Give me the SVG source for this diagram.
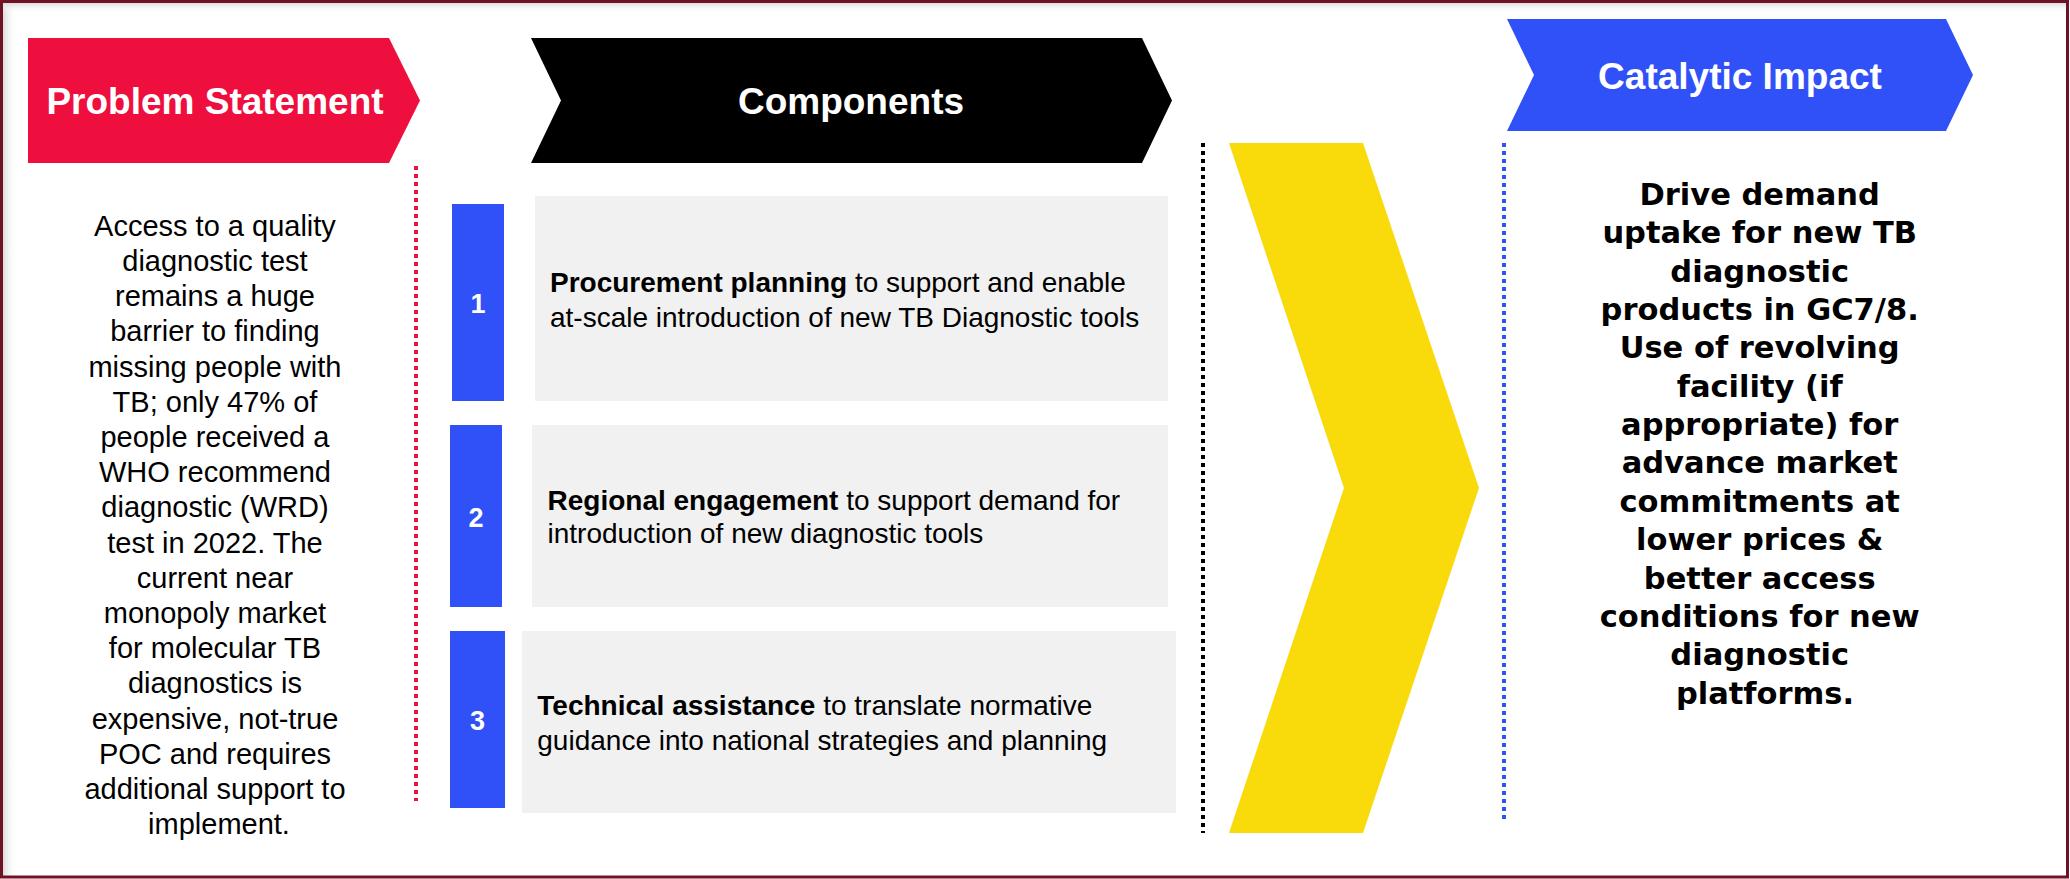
<svg xmlns="http://www.w3.org/2000/svg" width="2070" height="879" viewBox="0 0 2070 879">
  <defs>
    <linearGradient id="shadowL" x1="0" y1="0" x2="1" y2="0">
      <stop offset="0" stop-color="#dcdcdc"/>
      <stop offset="1" stop-color="#ffffff" stop-opacity="0"/>
    </linearGradient>
    <linearGradient id="shadowT" x1="0" y1="0" x2="0" y2="1">
      <stop offset="0" stop-color="#dcdcdc"/>
      <stop offset="1" stop-color="#ffffff" stop-opacity="0"/>
    </linearGradient>
    <style>
      .hdr { font-family: "Liberation Sans", Arial, sans-serif; font-weight: bold; font-size: 37px; fill: #ffffff; text-anchor: middle; }
      .body { font-family: "Liberation Sans", Arial, sans-serif; font-size: 29px; fill: #000000; text-anchor: middle; }
      .comp { font-family: "Liberation Sans", Arial, sans-serif; font-size: 28px; fill: #000000; }
      .num { font-family: "Liberation Sans", Arial, sans-serif; font-weight: bold; font-size: 27px; fill: #ffffff; text-anchor: middle; }
      .impact { font-family: "DejaVu Sans", "Liberation Sans", sans-serif; font-weight: bold; font-size: 30.5px; fill: #000000; text-anchor: middle; }
      .numbox { fill: #3050F8; }
      .graybox { fill: #F1F1F1; }
      .dots { fill: none; stroke-width: 4; stroke-dasharray: 4 4; }
    </style>
  </defs>

  <!-- background and frame -->
  <rect x="0" y="0" width="2070" height="879" fill="#ffffff"/>
  <rect x="3" y="3" width="14" height="873" fill="url(#shadowL)"/>
  <rect x="3" y="3" width="2063" height="10" fill="url(#shadowT)"/>
  <rect x="1.5" y="1.5" width="2066" height="875.5" fill="none" stroke="#6E1226" stroke-width="3"/>

  <!-- Header: Problem Statement -->
  <g id="header-problem">
    <polygon points="28,38 389,38 420,100.5 389,163 28,163" fill="#EE0F3F"/>
    <text class="hdr" x="215" y="114">Problem Statement</text>
  </g>

  <!-- Header: Components -->
  <g id="header-components">
    <polygon points="531,38 1142,38 1172,100.5 1142,163 531,163 561,100.5" fill="#000000"/>
    <text class="hdr" x="851" y="114">Components</text>
  </g>

  <!-- Header: Catalytic Impact -->
  <g id="header-impact">
    <polygon points="1507,19 1946,19 1973,75 1946,131 1507,131 1534,75" fill="#3050F8"/>
    <text class="hdr" x="1740" y="89">Catalytic Impact</text>
  </g>

  <!-- Problem statement body -->
  <g id="problem-text">
    <text class="body">
      <tspan x="219" y="235.8">Access to a quality</tspan>
      <tspan x="219" y="271">diagnostic test</tspan>
      <tspan x="219" y="306.2">remains a huge</tspan>
      <tspan x="219" y="341.4">barrier to finding</tspan>
      <tspan x="219" y="376.6">missing people with</tspan>
      <tspan x="219" y="411.8">TB; only 47% of</tspan>
      <tspan x="219" y="447">people received a</tspan>
      <tspan x="219" y="482.2">WHO recommend</tspan>
      <tspan x="219" y="517.4">diagnostic (WRD)</tspan>
      <tspan x="219" y="552.6">test in 2022. The</tspan>
      <tspan x="219" y="587.8">current near</tspan>
      <tspan x="219" y="623">monopoly market</tspan>
      <tspan x="219" y="658.2">for molecular TB</tspan>
      <tspan x="219" y="693.4">diagnostics is</tspan>
      <tspan x="219" y="728.6">expensive, not-true</tspan>
      <tspan x="219" y="763.8">POC and requires</tspan>
      <tspan x="219" y="799">additional support to</tspan>
      <tspan x="219" y="834.2">implement.</tspan>
    </text>
  </g>

  <!-- Component 1 -->
  <g id="component-1">
    <rect class="numbox" x="452" y="204" width="52" height="197"/>
    <text class="num" x="478" y="313">1</text>
    <rect class="graybox" x="535" y="196" width="633" height="205"/>
    <text class="comp" x="550" y="291.7"><tspan font-weight="bold">Procurement planning</tspan> to support and enable</text>
    <text class="comp" x="550" y="326.7">at-scale introduction of new TB Diagnostic tools</text>
  </g>

  <!-- Component 2 -->
  <g id="component-2">
    <rect class="numbox" x="450" y="425" width="52" height="182"/>
    <text class="num" x="476" y="526.5">2</text>
    <rect class="graybox" x="532" y="425" width="636" height="182"/>
    <text class="comp" x="547.5" y="510"><tspan font-weight="bold">Regional engagement</tspan> to support demand for</text>
    <text class="comp" x="547.5" y="543.3">introduction of new diagnostic tools</text>
  </g>

  <!-- Component 3 -->
  <g id="component-3">
    <rect class="numbox" x="450" y="631" width="55" height="177"/>
    <text class="num" x="477.5" y="730">3</text>
    <rect class="graybox" x="522" y="631" width="654" height="182"/>
    <text class="comp" x="537.3" y="715"><tspan font-weight="bold">Technical assistance</tspan> to translate normative</text>
    <text class="comp" x="537.3" y="750">guidance into national strategies and planning</text>
  </g>

  <!-- Yellow chevron -->
  <g id="chevron">
    <polygon points="1229,143 1363,143 1479,488 1363,833 1229,833 1344,488" fill="#F9DA0B"/>
  </g>

  <!-- Catalytic impact body -->
  <g id="impact-text">
    <text class="impact">
      <tspan x="1765" y="205">Drive demand</tspan>
      <tspan x="1765" y="243.35">uptake for new TB</tspan>
      <tspan x="1765" y="281.7">diagnostic</tspan>
      <tspan x="1765" y="320.05">products in GC7/8.</tspan>
      <tspan x="1765" y="358.4">Use of revolving</tspan>
      <tspan x="1765" y="396.75">facility (if</tspan>
      <tspan x="1765" y="435.1">appropriate) for</tspan>
      <tspan x="1765" y="473.45">advance market</tspan>
      <tspan x="1765" y="511.8">commitments at</tspan>
      <tspan x="1765" y="550.15">lower prices &amp;</tspan>
      <tspan x="1765" y="588.5">better access</tspan>
      <tspan x="1765" y="626.85">conditions for new</tspan>
      <tspan x="1765" y="665.2">diagnostic</tspan>
      <tspan x="1765" y="703.55">platforms.</tspan>
    </text>
  </g>

  <!-- Dotted separators -->
  <g id="connectors">
    <line class="dots" x1="416" y1="166" x2="416" y2="801" stroke="#EE0F3F"/>
    <line class="dots" x1="1203" y1="143" x2="1203" y2="833" stroke="#000000"/>
    <line class="dots" x1="1504" y1="143" x2="1504" y2="823" stroke="#3050F8"/>
  </g>
</svg>
